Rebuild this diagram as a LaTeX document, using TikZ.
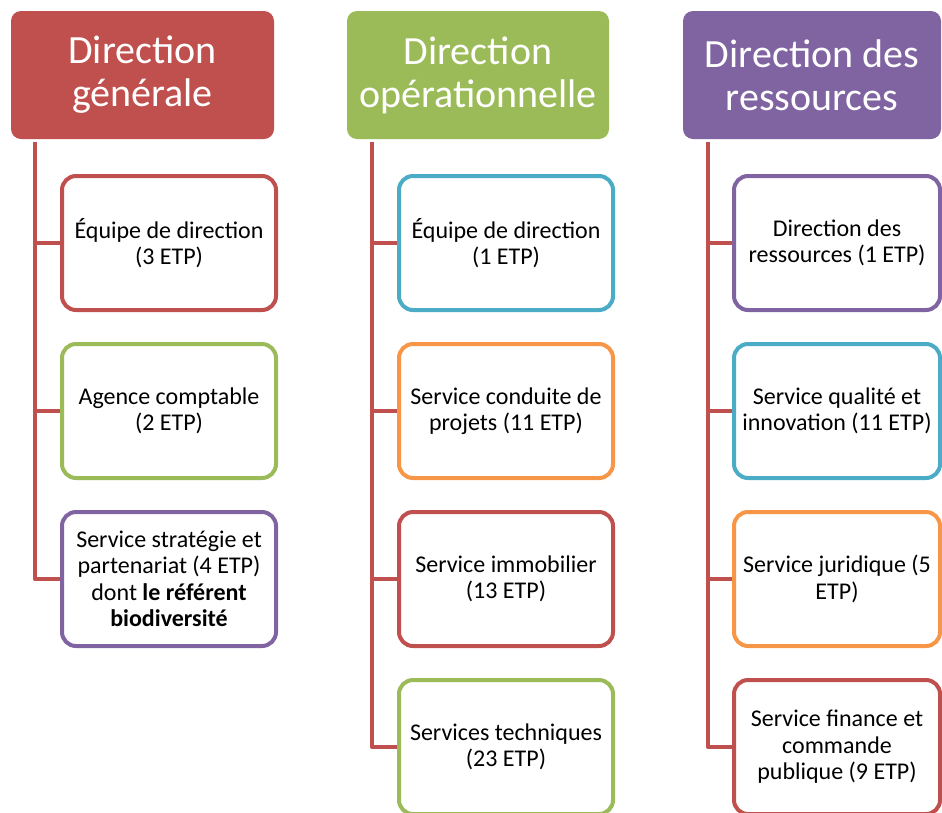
\documentclass[tikz,border=0pt]{standalone}
\usepackage{fontspec}
\setmainfont{Carlito}
\usetikzlibrary{backgrounds}
\definecolor{cred}{HTML}{C0504D}
\definecolor{cgreen}{HTML}{9BBB59}
\definecolor{cpurple}{HTML}{8064A2}
\definecolor{cblue}{HTML}{4BACC6}
\definecolor{corange}{HTML}{F79646}
\tikzset{
  headbox/.style={rectangle, rounded corners=10pt, fill=#1, text=white, inner sep=0pt,
    align=center, minimum height=128pt, font=\fontsize{40}{43}\selectfont},
  childbox/.style={rectangle, rounded corners=14pt, draw=#1, line width=4pt, fill=white,
    inner sep=0pt, align=center, minimum height=134pt, font=\fontsize{24}{26.5}\selectfont},
  link/.style={draw=cred, line width=4.5pt, line join=round}
}
\begin{document}
\begin{tikzpicture}[x=1pt,y=-1pt]
\useasboundingbox (0,0) rectangle (942,812);
% heads
\node[headbox=cred, minimum width=263pt] (h1) at (142.5,75) {Direction\\générale};
\node[headbox=cgreen, minimum width=262pt] (h2) at (478,75) {Direction\\opérationnelle};
\node[headbox=cpurple, minimum width=258pt] (h3) at (812,75) {Direction des\\ressources};
% column 1
\node[childbox=cred, minimum width=214pt] (a1) at (169,243) {Équipe de direction\\(3 ETP)};
\node[childbox=cgreen, minimum width=214pt] (a2) at (169,411) {Agence comptable\\(2 ETP)};
\node[childbox=cpurple, minimum width=214pt] (a3) at (169,579) {Service stratégie et\\partenariat (4 ETP)\\dont \textbf{le référent}\\\textbf{biodiversité}};
% column 2
\node[childbox=cblue, minimum width=214pt] (b1) at (506,243) {Équipe de direction\\(1 ETP)};
\node[childbox=corange, minimum width=214pt] (b2) at (506,411) {Service conduite de\\projets (11 ETP)};
\node[childbox=cred, minimum width=214pt] (b3) at (506,579) {Service immobilier\\(13 ETP)};
\node[childbox=cgreen, minimum width=214pt] (b4) at (506,747) {Services techniques\\(23 ETP)};
% column 3
\node[childbox=cpurple, minimum width=206pt] (c1) at (837,243) {Direction des\\ressources (1 ETP)};
\node[childbox=cblue, minimum width=206pt] (c2) at (837,411) {Service qualité et\\innovation (11 ETP)};
\node[childbox=corange, minimum width=206pt] (c3) at (837,579) {Service juridique (5\\ETP)};
\node[childbox=cred, minimum width=206pt] (c4) at (837,747) {Service finance et\\commande\\publique (9 ETP)};
% connectors
\coordinate (t1) at (35,142);
\coordinate (t2) at (372,142);
\coordinate (t3) at (708,142);
\begin{scope}[on background layer]
\draw[link] (t1) |- (a3.west);
\draw[link] (t1 |- a1.west) -- (a1.west);
\draw[link] (t1 |- a2.west) -- (a2.west);
\draw[link] (t2) |- (b4.west);
\draw[link] (t2 |- b1.west) -- (b1.west);
\draw[link] (t2 |- b2.west) -- (b2.west);
\draw[link] (t2 |- b3.west) -- (b3.west);
\draw[link] (t3) |- (c4.west);
\draw[link] (t3 |- c1.west) -- (c1.west);
\draw[link] (t3 |- c2.west) -- (c2.west);
\draw[link] (t3 |- c3.west) -- (c3.west);
\end{scope}
\end{tikzpicture}
\end{document}
